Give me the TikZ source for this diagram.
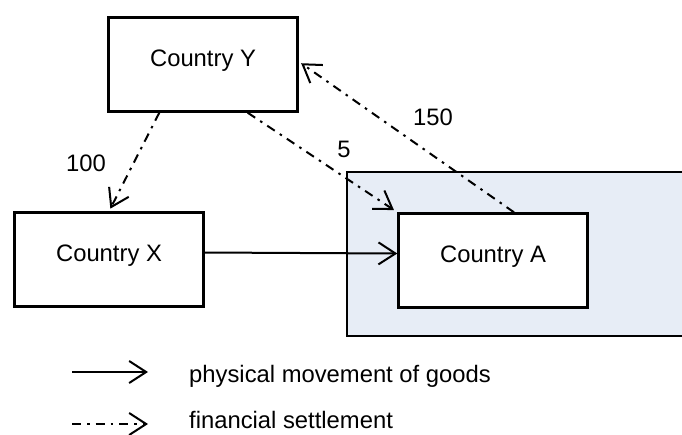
\documentclass[tikz,border=0pt]{standalone}
\usepackage{fontspec}
\setmainfont{Liberation Sans}
\usetikzlibrary{arrows.meta}
\definecolor{zonefill}{RGB}{231,237,246}
\tikzset{
  country/.style={draw,line width=2.4pt,fill=white,minimum width=189pt,minimum height=94pt,inner sep=0pt,text height=17pt,text depth=14pt},
  goods/.style={line width=2pt,-{Straight Barb[length=17pt,width=22pt,line width=2pt]}},
  money/.style={goods,dash pattern=on 9pt off 6pt on 2.5pt off 6pt},
  amount/.style={inner sep=1pt},
}
\begin{document}
\begin{tikzpicture}[x=1pt,y=-1pt,font=\fontsize{23.8}{28}\selectfont]
\useasboundingbox (0,0) rectangle (682,434);
\fill[zonefill] (347,172) rectangle (700,336);
\draw[line width=2.4pt] (700,172) -- (347,172) -- (347,336) -- (700,336);
\node[country] (Y) at (203,64.5) {Country Y};
\node[country] (X) at (109,259.5) {Country X};
\node[country] (A) at (493,260.5) {Country A};
\draw[goods] ([yshift=7pt]X.east) -- ([yshift=7pt]A.west);
\draw[money,shorten >=3pt] ([xshift=52pt]Y.south west) -- (X.north);
\draw[money,shorten >=4pt] ([xshift=-51pt]Y.south east) -- (A.north west);
\draw[money,shorten >=3pt] ([xshift=21pt]A.north) -- ([yshift=3pt]Y.east);
\node[amount] (xval) at (86,163) {100};
\node[amount] (aval) at (344,149) {5};
\node[amount] (yval) at (433,117) {150};
% legend
\coordinate (lg1) at (72,372);
\coordinate (lg1e) at (148,372);
\coordinate (lg2) at (72,424);
\coordinate (lg2e) at (148,424);
\draw[goods] (lg1) -- (lg1e);
\draw[money] (lg2) -- (lg2e);
\node[anchor=base west,inner sep=0pt] (goodstext) at (189,382) {physical movement of goods};
\node[anchor=base west,inner sep=0pt] (moneytext) at (189,428) {financial settlement};
\end{tikzpicture}
\end{document}
